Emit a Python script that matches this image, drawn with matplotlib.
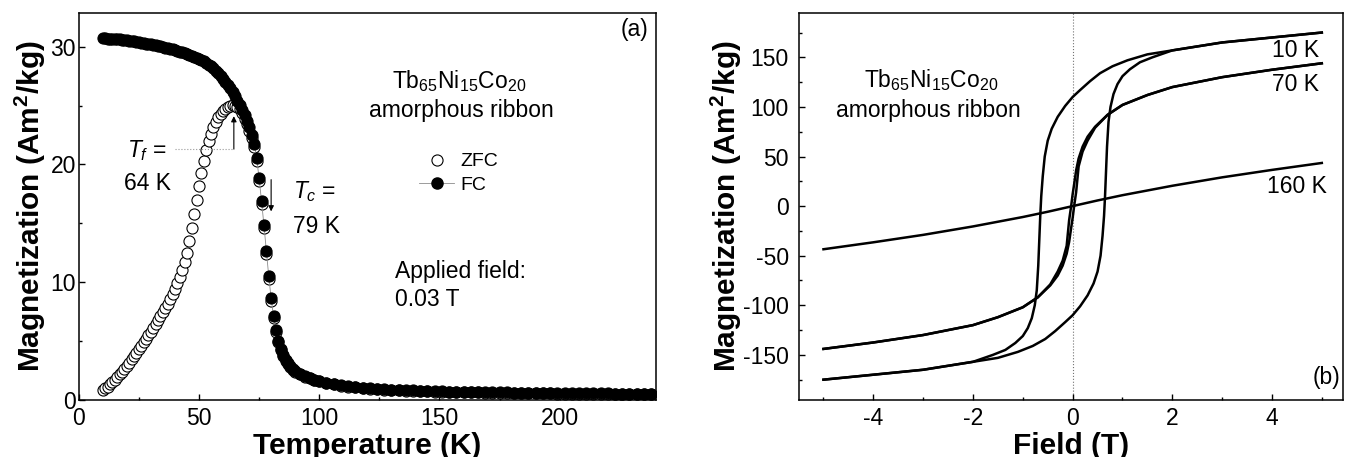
import matplotlib
matplotlib.use('Agg')
import matplotlib.pyplot as plt
from matplotlib.ticker import MultipleLocator
from matplotlib.lines import Line2D

plt.rcParams['font.family'] = ['Liberation Sans', 'DejaVu Sans']
plt.rcParams['mathtext.fontset'] = 'custom'
plt.rcParams['mathtext.rm'] = 'Liberation Sans'
plt.rcParams['mathtext.it'] = 'Liberation Sans:italic'
plt.rcParams['mathtext.bf'] = 'Liberation Sans:bold'
plt.rcParams['axes.unicode_minus'] = False

# ---------------------------
# (a) ZFC / FC magnetization vs temperature
# ---------------------------
temp = [10, 11, 12, 13, 14, 15, 16, 17, 18, 19,
        20, 21, 22, 23, 24, 25, 26, 27, 28, 29,
        30, 31, 32, 33, 34, 35, 36, 37, 38, 39,
        40, 41, 42, 43, 44, 45, 46, 47, 48, 49,
        50, 51, 52, 53, 54, 55, 56, 57, 58, 59,
        60, 61, 62, 63, 64, 65, 66, 67, 68, 69,
        70, 71, 72, 73, 74, 75, 76, 77, 78, 79,
        80, 81, 82, 83, 84, 85, 86, 87, 88, 89,
        90, 92, 94, 96, 98, 100, 103, 106, 109, 112,
        115, 118, 121, 124, 127, 130, 133, 136, 139, 142,
        145, 148, 151, 154, 157, 160, 163, 166, 169, 172,
        175, 178, 181, 184, 187, 190, 193, 196, 199, 202,
        205, 208, 211, 214, 217, 220, 223, 226, 229, 232,
        235, 238]

m_zfc = [0.80, 0.95, 1.10, 1.28, 1.47, 1.68, 1.90, 2.13, 2.37, 2.62,
         2.88, 3.14, 3.41, 3.69, 3.97, 4.26, 4.55, 4.85, 5.15, 5.46,
         5.78, 6.10, 6.43, 6.77, 7.10, 7.45, 7.80, 8.15, 8.55, 8.95,
         9.40, 9.88, 10.40, 11.00, 11.70, 12.50, 13.45, 14.55, 15.75, 17.00,
         18.20, 19.30, 20.30, 21.20, 21.95, 22.60, 23.15, 23.60, 24.00, 24.30,
         24.55, 24.75, 24.90, 24.98, 25.02, 24.98, 24.90, 24.70, 24.35, 23.90,
         23.40, 22.85, 22.25, 21.45, 20.25, 18.55, 16.65, 14.60, 12.40, 10.25,
         8.40, 6.90, 5.72, 4.85, 4.17, 3.68, 3.30, 2.98, 2.73, 2.54,
         2.38, 2.14, 1.95, 1.80, 1.66, 1.54, 1.40, 1.28, 1.18, 1.10,
         1.03, 0.97, 0.92, 0.88, 0.84, 0.81, 0.78, 0.75, 0.73, 0.71,
         0.69, 0.67, 0.66, 0.64, 0.63, 0.62, 0.61, 0.60, 0.59, 0.58,
         0.57, 0.56, 0.55, 0.54, 0.54, 0.53, 0.52, 0.52, 0.51, 0.51,
         0.50, 0.50, 0.49, 0.49, 0.48, 0.48, 0.47, 0.47, 0.46, 0.46,
         0.46, 0.45]

m_fc = [30.72, 30.71, 30.70, 30.69, 30.68, 30.66, 30.65, 30.63, 30.61, 30.59,
        30.56, 30.53, 30.50, 30.47, 30.44, 30.40, 30.36, 30.32, 30.28, 30.24,
        30.20, 30.16, 30.12, 30.07, 30.03, 29.98, 29.93, 29.88, 29.83, 29.78,
        29.72, 29.66, 29.60, 29.54, 29.47, 29.40, 29.32, 29.24, 29.16, 29.07,
        28.98, 28.87, 28.75, 28.62, 28.48, 28.33, 28.16, 27.97, 27.76, 27.54,
        27.30, 27.04, 26.76, 26.46, 26.14, 25.80, 25.43, 25.04, 24.62, 24.17,
        23.68, 23.14, 22.52, 21.70, 20.50, 18.80, 16.90, 14.85, 12.65, 10.50,
        8.60, 7.10, 5.90, 5.00, 4.30, 3.80, 3.40, 3.08, 2.82, 2.62,
        2.45, 2.20, 2.00, 1.84, 1.70, 1.58, 1.44, 1.32, 1.22, 1.14,
        1.07, 1.01, 0.96, 0.92, 0.88, 0.85, 0.82, 0.79, 0.77, 0.75,
        0.73, 0.71, 0.70, 0.68, 0.67, 0.66, 0.65, 0.64, 0.63, 0.62,
        0.61, 0.60, 0.59, 0.58, 0.58, 0.57, 0.56, 0.56, 0.55, 0.55,
        0.54, 0.54, 0.53, 0.53, 0.52, 0.52, 0.51, 0.51, 0.50, 0.50,
        0.50, 0.49]

# ---------------------------
# (b) hysteresis loops
# ---------------------------
h10_down = [5.0, 4.0, 3.0, 2.5, 2.0, 1.5, 1.1, 0.8, 0.55, 0.35, 0.15, 0.0, -0.15, -0.3, -0.42,
            -0.5, -0.56, -0.6, -0.63, -0.65, -0.67, -0.69, -0.72, -0.76, -0.82, -0.9, -1.0,
            -1.15, -1.35, -1.6, -2.0, -2.5, -3.0, -4.0, -5.0]
m10_down = [175, 170, 165, 161, 157, 153, 147, 141, 134, 126, 117, 110, 101, 90, 78,
            66, 50, 30, 10, -10, -35, -60, -85, -100, -113, -123, -131,
            -138, -145, -150, -157, -161, -165, -170, -175]
h10_up = [-5.0, -4.0, -3.0, -2.5, -2.0, -1.5, -1.1, -0.8, -0.55, -0.35, -0.15, 0.0, 0.15, 0.3, 0.42,
          0.5, 0.56, 0.6, 0.63, 0.65, 0.67, 0.69, 0.72, 0.76, 0.82, 0.9, 1.0,
          1.15, 1.35, 1.6, 2.0, 2.5, 3.0, 4.0, 5.0]
m10_up = [-175, -170, -165, -161, -157, -153, -147, -141, -134, -126, -117, -110, -101, -90, -78,
          -66, -50, -30, -10, 10, 35, 60, 85, 100, 113, 123, 131,
          138, 145, 150, 157, 161, 165, 170, 175]

h70_down = [5.0, 4.0, 3.0, 2.0, 1.5, 1.0, 0.7, 0.45, 0.3, 0.2, 0.12, 0.07, 0.03, 0.0,
            -0.03, -0.07, -0.12, -0.2, -0.3, -0.45, -0.7, -1.0, -1.5, -2.0, -3.0, -4.0, -5.0]
m70_down = [144, 137.5, 130, 120, 112, 102, 92, 80, 70, 60, 48, 36, 22, 12,
            0, -14, -40, -55, -66, -79, -92, -102, -112, -120, -130, -137.5, -144]
h70_up = [-5.0, -4.0, -3.0, -2.0, -1.5, -1.0, -0.7, -0.45, -0.3, -0.2, -0.12, -0.07, -0.03, 0.0,
          0.03, 0.07, 0.12, 0.2, 0.3, 0.45, 0.7, 1.0, 1.5, 2.0, 3.0, 4.0, 5.0]
m70_up = [-144, -137.5, -130, -120, -112, -102, -92, -80, -70, -60, -48, -36, -22, -12,
          0, 14, 40, 55, 66, 79, 92, 102, 112, 120, 130, 137.5, 144]

h160 = [-5, -4, -3, -2, -1, -0.5, 0, 0.5, 1, 2, 3, 4, 5]
m160 = [-43.5, -36.5, -29, -20.5, -11, -5.7, 0, 5.7, 11, 20.5, 29, 36.5, 43.5]

# ---------------------------
# Figure
# ---------------------------
fig = plt.figure(figsize=(13.48, 4.57), dpi=100)
ax1 = fig.add_axes([0.0584, 0.1258, 0.4282, 0.8464])
ax2 = fig.add_axes([0.5924, 0.1258, 0.4037, 0.8464])

TICK = 16.5
LABEL = 21.5

for ax in (ax1, ax2):
    for s in ax.spines.values():
        s.set_linewidth(1.1)
    ax.tick_params(which='both', direction='in', top=False, right=False,
                   labelsize=TICK, width=1.0)
    ax.tick_params(which='major', length=4.5)
    ax.tick_params(which='minor', length=2.5)
    ax.tick_params(axis='x', pad=5.5)

# (a)
ax1.plot(temp, m_zfc, ls='none', marker='o', ms=8, mfc='white', mec='black',
         mew=0.8, zorder=2)
ax1.plot(temp, m_fc, ls='-', color='0.55', lw=0.6, marker='o', ms=8,
         mfc='black', mec='black', mew=0.8, zorder=3)
ax1.set_xlim(0, 240)
ax1.set_ylim(0, 32.9)
ax1.xaxis.set_major_locator(MultipleLocator(50))
ax1.xaxis.set_minor_locator(MultipleLocator(25))
ax1.yaxis.set_major_locator(MultipleLocator(10))
ax1.yaxis.set_minor_locator(MultipleLocator(5))
ax1.tick_params(axis='y', pad=2)
ax1.set_xlabel('Temperature (K)', fontsize=LABEL, fontweight='bold')
ax1.set_ylabel(r'Magnetization (Am$^\mathbf{2}$/kg)', fontsize=LABEL, fontweight='bold')
ax1.xaxis.set_label_coords(0.5, -0.083)
ax1.yaxis.set_label_coords(-0.053, 0.5)

ax1.text(237, 31.45, '(a)', fontsize=TICK, ha='right', va='center')
ax1.text(158, 27.05, r'Tb$_{65}$Ni$_{15}$Co$_{20}$', fontsize=TICK, ha='center', va='center')
ax1.text(159, 24.6, 'amorphous ribbon', fontsize=TICK, ha='center', va='center')
ax1.text(131.5, 9.7, 'Applied field:\n0.03 T', fontsize=TICK, ha='left', va='center',
         linespacing=1.25)
ax1.text(20, 21.2, r'$T_f$ =', fontsize=TICK, ha='left', va='center')
ax1.text(19, 18.4, '64 K', fontsize=TICK, ha='left', va='center')
ax1.text(89, 17.7, r'$T_c$ =', fontsize=TICK, ha='left', va='center')
ax1.text(89, 14.7, '79 K', fontsize=TICK, ha='left', va='center')
ax1.plot([40, 64.5], [21.3, 21.3], ls=':', color='0.6', lw=0.8)
ax1.annotate('', xy=(64.5, 24.1), xytext=(64.5, 21.3),
             arrowprops=dict(arrowstyle='-|>', color='black', lw=0.8,
                             mutation_scale=8, shrinkA=0, shrinkB=0))
ax1.annotate('', xy=(80, 16.0), xytext=(80, 18.7),
             arrowprops=dict(arrowstyle='-|>', color='black', lw=0.8,
                             mutation_scale=8, shrinkA=0, shrinkB=0))

handles = [Line2D([], [], ls='none', marker='o', ms=8, mfc='white', mec='black', mew=0.8),
           Line2D([], [], ls='-', color='0.55', lw=0.6, marker='o', ms=8,
                  mfc='black', mec='black')]
ax1.legend(handles, ['ZFC', 'FC'], loc='center left', bbox_to_anchor=(0.59, 0.585),
           frameon=False, fontsize=14, handlelength=1.8, handletextpad=0.3,
           labelspacing=0.3, borderpad=0, borderaxespad=0)

# (b)
ax2.axvline(0, ls=':', color='0.45', lw=0.8, zorder=1)
ax2.plot(h10_down, m10_down, color='black', lw=1.8)
ax2.plot(h10_up, m10_up, color='black', lw=1.8)
ax2.plot(h70_down, m70_down, color='black', lw=1.8)
ax2.plot(h70_up, m70_up, color='black', lw=1.8)
ax2.plot(h160, m160, color='black', lw=1.8)
ax2.set_xlim(-5.5, 5.42)
ax2.set_ylim(-195, 195)
ax2.xaxis.set_major_locator(MultipleLocator(2))
ax2.xaxis.set_minor_locator(MultipleLocator(1))
ax2.yaxis.set_major_locator(MultipleLocator(50))
ax2.yaxis.set_minor_locator(MultipleLocator(25))
ax2.tick_params(axis='y', pad=7)
ax2.set_xlabel('Field (T)', fontsize=LABEL, fontweight='bold')
ax2.set_ylabel(r'Magnetization (Am$^\mathbf{2}$/kg)', fontsize=LABEL, fontweight='bold')
ax2.xaxis.set_label_coords(0.5, -0.083)
ax2.yaxis.set_label_coords(-0.10, 0.5)

ax2.text(-2.83, 126.8, r'Tb$_{65}$Ni$_{15}$Co$_{20}$', fontsize=TICK, ha='center', va='center')
ax2.text(-2.9, 96.6, 'amorphous ribbon', fontsize=TICK, ha='center', va='center')
ax2.text(4.95, 157, '10 K', fontsize=TICK, ha='right', va='center')
ax2.text(4.95, 122.4, '70 K', fontsize=TICK, ha='right', va='center')
ax2.text(5.1, 20, '160 K', fontsize=TICK, ha='right', va='center')
ax2.text(5.37, -173, '(b)', fontsize=TICK, ha='right', va='center')

fig.savefig('out.png', dpi=100)
